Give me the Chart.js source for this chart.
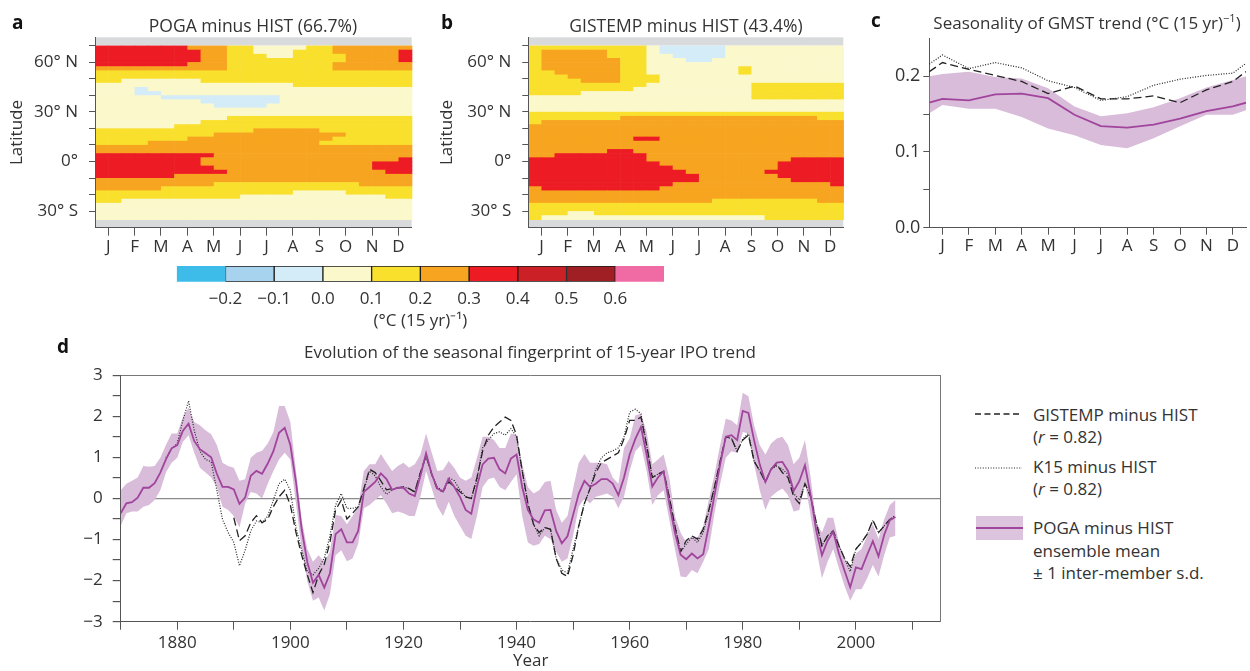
<!DOCTYPE html>
<html>
<head>
<meta charset="utf-8">
<script src="https://cdn.jsdelivr.net/npm/chart.js@4.4.1/dist/chart.umd.min.js"></script>
<style>
  body { margin: 0; background: #fff; }
  #fig { position: relative; width: 1250px; height: 671px; overflow: hidden; font-family: 'Open Sans', sans-serif; color: #333; }
  canvas { position: absolute; }
  .t { position: absolute; white-space: nowrap; font-size: 17px; line-height: 20px; }
  .ctr { transform: translateX(-50%); }
  .letter { position: absolute; font-weight: bold; font-size: 19px; line-height: 20px; color: #111; }
</style>
</head>
<body>
<div id="fig">
  <canvas id="cvA" width="430" height="262" style="left:0;top:0"></canvas>
  <canvas id="cvB" width="430" height="262" style="left:430px;top:0"></canvas>
  <canvas id="cvC" width="390" height="262" style="left:860px;top:0"></canvas>
  <canvas id="cvBar" width="560" height="80" style="left:160px;top:255px"></canvas>
  <canvas id="cvD" width="960" height="316" style="left:0;top:355px"></canvas>

  <div class="letter" style="left:12px;top:12px">a</div>
  <div class="letter" style="left:441px;top:12px">b</div>
  <div class="letter" style="left:871px;top:10px">c</div>
  <div class="letter" style="left:57px;top:336px">d</div>

  <div class="t ctr" style="left:253px;top:15px;font-size:17.5px">POGA minus HIST (66.7%)</div>
  <div class="t ctr" style="left:686px;top:15px;font-size:17.5px">GISTEMP minus HIST (43.4%)</div>
  <div class="t ctr" style="left:1087px;top:13px">Seasonality of GMST trend (°C (15 yr)<sup style="font-size:11px;line-height:0">−1</sup>)</div>
  <div class="t ctr" style="left:530px;top:342px">Evolution of the seasonal fingerprint of 15-year IPO trend</div>

  <svg style="position:absolute;left:970px;top:400px" width="60" height="150">
    <line x1="5" y1="14" x2="52" y2="14" stroke="#222" stroke-width="1.4" stroke-dasharray="6,3.5"/>
    <line x1="5" y1="68" x2="52" y2="68" stroke="#222" stroke-width="1.2" stroke-dasharray="1,1.6"/>
    <rect x="6" y="116" width="47" height="24" fill="#dcc3de"/>
    <line x1="6" y1="128" x2="53" y2="128" stroke="#a0449c" stroke-width="2"/>
  </svg>
  <div class="t" style="left:1033px;top:405px">GISTEMP minus HIST</div>
  <div class="t" style="left:1033px;top:427px">(<i>r</i> = 0.82)</div>
  <div class="t" style="left:1033px;top:457px">K15 minus HIST</div>
  <div class="t" style="left:1033px;top:479px">(<i>r</i> = 0.82)</div>
  <div class="t" style="left:1033px;top:518px">POGA minus HIST</div>
  <div class="t" style="left:1033px;top:541px">ensemble mean</div>
  <div class="t" style="left:1033px;top:563px">± 1 inter-member s.d.</div>
</div>

<script>
// ---- shared categories ----
const monthLetters = ["J", "F", "M", "A", "M", "J", "J", "A", "S", "O", "N", "D"];

// colour levels (°C per 15 yr) and their colours
const levels = [-0.3, -0.2, -0.1, 0.0, 0.1, 0.2, 0.3, 0.4, 0.5, 0.6, 0.7];
const levelColors = ["#3dbcea", "#a7d3ef", "#d4ecf8", "#fbf8cc", "#f9e02d", "#f7a520", "#ed1c24", "#cc2027", "#a01f24", "#f06ba4"];
const colorbarTicks = [-0.2, -0.1, 0.0, 0.1, 0.2, 0.3, 0.4, 0.5, 0.6];

// heatmap rows: 2.5° latitude bands from 70°N (top) down to 35°S, 24 half-month columns,
// each digit is an index into levelColors
const topLat = 70;
const bandHeight = 2.5;
const pogaRows = [
  "666666655544333344555555",
  "666666665544333444555556",
  "666666665544433444455556",
  "666666665544444444455556",
  "666666655544444444555555",
  "555555555544444444555555",
  "444444444444444444444444",
  "444444444444444444444444",
  "443333334444444444444444",
  "333333333333333444444444",
  "333233333333333333333333",
  "333223333333333333333333",
  "333332222222223333333333",
  "333333332222223333333333",
  "333333333222233333333333",
  "333333333333333333333333",
  "333333333333333333333333",
  "333333333344444444444444",
  "333333334444444444444444",
  "333333444444444444444444",
  "444444444444555554444444",
  "444444444555555555544444",
  "444444455555555555444444",
  "444455555555555554444444",
  "555555555555555555555555",
  "555555555555555555555555",
  "666666666555555555555555",
  "666666665555555555555556",
  "666666665555555555555666",
  "666666666555555555555666",
  "666666666655555555555566",
  "666666555555555555555555",
  "555555555555555555555555",
  "555555555444444444445555",
  "555554444444444444444444",
  "444444444444444333344444",
  "444444444443333333333344",
  "443333333333333333333333",
  "333333333333333333333333",
  "333333333333333333333333",
  "333333333333333333333333",
  "333333333333333333333333",
];
const gistempRows = [
  "444444444322222333333333",
  "455555444322222333333333",
  "455555444332222333333333",
  "455555544333223333333333",
  "455555544333333333333333",
  "455555544333333343333333",
  "445555544333333343333333",
  "444555544433333333333333",
  "444455544433333333333333",
  "444444444333333334444444",
  "444444443333333334444444",
  "444433333333333334444444",
  "333333333333333334444444",
  "333333333333333333333333",
  "333333333333333333333333",
  "333333333333333333333333",
  "444444444444444444444444",
  "444444455555555555555544",
  "455555555555555555555555",
  "555555555555555555555555",
  "555555555555555555555555",
  "555555555555555555555555",
  "555555556655555555555555",
  "555555555555555555555555",
  "555555555555555555555555",
  "555555665555555555555555",
  "556666666555555555555555",
  "666666666555555555556666",
  "666666666655555555566666",
  "666666666665555555566666",
  "666666666666555555666666",
  "666666666666655555566666",
  "666666666666655555556666",
  "666666666665555555555556",
  "566666666655555555555555",
  "555555555555555555555555",
  "555555555555555555555555",
  "555555555555554444444455",
  "444444444444444444444444",
  "444444444444444444444444",
  "444334444444444444444444",
  "433333333333333333444444",
];
const latTicks = [-30, -20, -10, 0, 10, 20, 30, 40, 50, 60, 70];
const latLabels = { "60": "60° N", "30": "30° N", "0": "0°", "-30": "30° S" };

// ---- panel c: seasonality of GMST trend ----
// month positions, with the half-month edges of the cyclic curves
const seasonPos = [-0.5, 0, 1, 2, 3, 4, 5, 6, 7, 8, 9, 10, 11, 11.5];
const seasonPoga = [0.165, 0.170, 0.168, 0.176, 0.177, 0.171, 0.149, 0.134, 0.132, 0.136, 0.144, 0.154, 0.160, 0.165];
const seasonPogaHi = [0.200, 0.203, 0.206, 0.199, 0.197, 0.184, 0.160, 0.147, 0.151, 0.159, 0.171, 0.185, 0.195, 0.200];
const seasonPogaLo = [0.151, 0.162, 0.157, 0.157, 0.146, 0.131, 0.122, 0.109, 0.105, 0.118, 0.134, 0.149, 0.149, 0.155];
const seasonGistemp = [0.206, 0.218, 0.209, 0.201, 0.193, 0.177, 0.187, 0.170, 0.170, 0.174, 0.165, 0.182, 0.193, 0.206];
const seasonK15 = [0.216, 0.228, 0.210, 0.218, 0.211, 0.194, 0.185, 0.168, 0.173, 0.188, 0.196, 0.201, 0.204, 0.217];
const seasonTicks = [0, 0.05, 0.1, 0.15, 0.2];

// ---- panel d: 15-year IPO trend fingerprint, yearly ----
const pogaStart = 1870;
const pogaMean = [
  -0.36, -0.12, -0.09, 0.02, 0.26, 0.26, 0.37, 0.63, 0.95, 1.22,
  1.3, 1.65, 1.82, 1.4, 1.2, 1.1, 1.0, 0.6, 0.28, 0.28,
  0.22, -0.13, 0.02, 0.55, 0.67, 0.6, 0.85, 1.15, 1.6, 1.72,
  1.3, 0.4, -0.75, -1.55, -2.05,
  -1.86, -2.17, -1.82, -0.87, -0.75, -1.07, -1.07, -0.79, 0.16, 0.28,
  0.40, 0.61, 0.47, 0.21, 0.26, 0.26, 0.12, 0.06, 0.55, 1.1,
  0.59, 0.24, 0.17, 0.47, 0.28, 0.04, -0.28, -0.37, 0.29, 0.83,
  0.97, 0.99, 0.71, 0.61, 0.97, 1.07, 0.28, -0.28, -0.51, -0.59,
  -0.29, -0.28, -0.79, -1.09, -0.92, -0.40, 0.12, 0.43, 0.28, 0.36,
  0.47, 0.47, 0.36, 0.08, 0.51, 1.07, 1.45,
  1.74, 1.07, 0.29, 0.51, 0.66, -0.12, -0.83, -1.37, -1.48, -1.34,
  -1.46, -1.36, -0.67, 0.08, 0.83, 1.50, 1.54, 1.42, 2.13, 2.08,
  1.42, 0.83, 0.40, 0.71, 0.87, 0.89, 0.67, 0.18, 0.42, 0.81,
  0.08, -0.79, -1.38, -1.03, -0.81, -1.34, -1.76, -2.16, -1.68, -1.72,
  -1.37, -1.04, -1.41, -0.89, -0.53, -0.45,
];
const pogaUpper = [
  0.2, 0.36, 0.43, 0.51, 0.79, 0.77, 0.79, 0.99, 1.3, 1.58,
  1.58, 1.98, 2.21, 1.86, 1.78, 1.66, 1.56, 1.30, 0.87, 0.79,
  0.75, 0.43, 0.47, 0.99, 1.11, 1.16, 1.34, 1.62, 2.25, 2.25,
  1.86, 0.67, -0.51, -1.23, -1.54,
  -1.38, -1.54, -1.30, -0.40, -0.43, -0.63, -0.43, -0.2, 0.67, 0.83,
  0.83, 1.08, 0.87, 0.67, 0.79, 0.87, 0.75, 0.83, 1.07, 1.58,
  1.11, 0.67, 0.69, 0.91, 0.74, 0.51, 0.43, 0.51, 0.99, 1.50,
  1.5, 1.42, 1.23, 1.23, 1.58, 1.54, 0.83, 0.28, 0.12, 0.20,
  0.40, 0.43, -0.28, -0.59, -0.43, 0.24, 0.87, 1.08, 0.87, 0.87,
  0.87, 0.83, 0.51, 0.36, 1.23, 1.46, 2.02,
  2.06, 1.62, 0.83, 0.95, 1.07, 0.51, -0.43, -0.83, -1.07, -0.91,
  -0.95, -0.67, -0.04, 0.59, 1.3, 1.94, 1.9, 1.78, 2.57, 2.49,
  1.78, 1.3, 1.07, 1.34, 1.46, 1.50, 1.30, 0.83, 0.99, 1.42,
  0.51, -0.59, -0.83, -0.47, -0.47, -1.07, -1.50, -1.70, -1.34, -1.23,
  -0.91, -0.63, -0.99, -0.51, -0.16, -0.04,
];
const pogaLower = [
  -0.67, -0.36, -0.32, -0.32, -0.2, -0.16, -0.04, 0.2, 0.63, 0.87,
  0.99, 1.38, 1.54, 1.11, 0.75, 0.63, 0.51, 0.28, -0.2, -0.28,
  -0.43, -0.71, -0.12, 0.16, 0.12, 0, 0.36, 0.67, 0.95, 1.11,
  0.95, -0.12, -1.23, -2.02, -2.49,
  -2.41, -2.73, -2.33, -1.38, -1.26, -1.53, -1.46, -1.1, -0.24, -0.16,
  -0.04, 0.08, -0.12, -0.36, -0.32, -0.36, -0.43, -0.43, 0.04, 0.67,
  0.24, -0.2, -0.43, -0.08, -0.43, -0.67, -0.91, -0.99, -0.43, 0.28,
  0.47, 0.51, 0.28, 0.2, 0.40, 0.59, -0.43, -1.07, -1.15, -1.11,
  -0.91, -0.99, -1.30, -1.54, -1.46, -0.91, -0.2, 0, -0.12, 0.04,
  0.08, 0.12, 0.04, -0.24, 0.04, 0.67, 1.15,
  1.3, 0.67, -0.16, 0.08, 0.2, -0.51, -1.23, -1.90, -1.92, -1.74,
  -1.82, -1.54, -1.23, -0.36, 0.36, 0.99, 1.15, 1.11, 1.62, 1.58,
  0.83, 0.2, -0.28, 0.04, 0.16, 0.24, 0.08, -0.32, -0.28, 0.40,
  -0.43, -1.23, -1.94, -1.54, -1.23, -1.70, -2.13, -2.49, -2.21, -2.21,
  -1.94, -1.62, -1.90, -1.38, -0.95, -0.91,
];
const gistempStart = 1890;
const gistempTrend = [
  -0.47, -1.03, -0.91, -0.59, -0.42, -0.59, -0.51, -0.2, 0.04, 0.2,
  -0.16, -0.83, -1.38, -1.86, -2.29,
  -1.86, -1.6, -1.07, -0.28, -0.04, -0.5, -0.36, -0.2, 0.24, 0.71,
  0.63, 0.43, 0.21, 0.24, 0.26, 0.28, 0.24, 0.16, 0.63, 1.03,
  0.59, 0.21, 0.17, 0.4, 0.29, 0.16, 0.04, 0, 0.51, 1.15,
  1.54, 1.74, 1.86, 1.98, 1.9, 1.54, 0.67, -0.12, -0.63, -0.83,
  -0.71, -0.75, -1.46, -1.82, -1.9, -1.38, -0.67, -0.12, 0.24, 0.63,
  0.87, 0.95, 1.03, 1.11, 1.45, 1.9, 1.9,
  1.98, 1.3, 0.51, 0.59, 0.66, 0.04, -0.67, -1.3, -1.03, -0.91,
  -0.99, -0.75, -0.28, 0.28, 0.91, 1.50, 1.46, 1.15, 1.42, 1.54,
  0.91, 0.67, 0.40, 0.71, 0.83, 0.63, 0.51, 0.04, -0.12, 0.36,
  0.04, -0.59, -1.15, -0.91, -0.79, -1.15, -1.46, -1.66, -1.23, -1.07,
  -0.87, -0.53, -0.83, -0.67, -0.51, -0.47,
];
const k15Start = 1878;
const k15Trend = [
  0.99, 1.21, 1.34, 1.9, 2.37, 1.66, 1.15, 0.95, 0.89, 0.2,
  -0.51, -0.83, -1.07, -1.64, -1.26, -0.79, -0.55, -0.59, -0.43, -0.04,
  0.36, 0.47, 0.2, -0.71, -1.26, -1.78, -1.86,
  -1.7, -1.45, -0.91, -0.16, 0.12, -0.24, -0.24, -0.2, 0.2, 0.67,
  0.55, 0.28, 0.1, 0.21, 0.26, 0.28, 0.24, 0.16, 0.63, 1.07,
  0.59, 0.28, 0.17, 0.51, 0.43, 0.21, 0.04, 0, 0.47, 1.23,
  1.42, 1.58, 1.62, 1.54, 1.70, 1.5, 0.67, -0.12, -0.63, -0.91,
  -0.71, -0.75, -1.46, -1.74, -1.82, -1.23, -0.67, -0.12, 0.24, 0.71,
  0.99, 1.11, 1.16, 1.23, 1.5, 2.1, 2.17,
  2.06, 1.3, 0.51, 0.59, 0.66, 0.04, -0.67, -1.3, -1.11, -0.95,
  -1.07, -0.83, -0.32, 0.28, 0.91, 1.50, 1.46, 1.15, 1.45, 1.58,
  0.91, 0.67, 0.40, 0.71, 0.79, 0.71, 0.59, 0.12, -0.04, 0.36,
  0.04, -0.59, -1.15, -0.91, -0.79, -1.15, -1.46, -1.78, -1.23, -1.07,
  -0.87, -0.53, -0.83, -0.67, -0.51, -0.41,
];
const yearTicks = [1870, 1880, 1890, 1900, 1910, 1920, 1930, 1940, 1950, 1960, 1970, 1980, 1990, 2000, 2010];
const yearLabels = [1880, 1900, 1920, 1940, 1960, 1980, 2000];
const ipoTicks = [-3, -2.5, -2, -1.5, -1, -0.5, 0, 0.5, 1, 1.5, 2, 2.5, 3];

// ---- styling ----
const axisColor = "#555";
const bandColor = "#d8bcda";
const purple = "#a0449c";
const noDataGrey = "#d9dadb";

Chart.defaults.font.family = "'Open Sans', sans-serif";
Chart.defaults.font.size = 17;
Chart.defaults.color = "#333";
Chart.defaults.animation = false;
Chart.defaults.responsive = false;
Chart.defaults.devicePixelRatio = 1;
Chart.defaults.plugins.legend.display = false;
Chart.defaults.plugins.tooltip.enabled = false;

function minusSign(s) {
  return String(s).replace("-", "\u2212");
}

// turn a start year and a list of values into {x, y} points
function yearPoints(start, values) {
  return values.map((v, i) => ({ x: start + i, y: v }));
}

function seasonPoints(values) {
  return values.map((v, i) => ({ x: seasonPos[i], y: v }));
}

// draws the latitude x month cells before the axes go on top
const heatmapPlugin = {
  id: "heatmap",
  beforeDraw(chart, args, opts) {
    const { ctx } = chart;
    const xs = chart.scales.x;
    const ys = chart.scales.y;
    ctx.save();
    const left = xs.getPixelForValue(-0.5);
    const right = xs.getPixelForValue(11.5);
    // no-data strips
    ctx.fillStyle = noDataGrey;
    ctx.fillRect(left, ys.getPixelForValue(75), right - left, ys.getPixelForValue(70) - ys.getPixelForValue(75));
    ctx.fillRect(left, ys.getPixelForValue(-35), right - left, ys.getPixelForValue(-40) - ys.getPixelForValue(-35));
    opts.rows.forEach((row, r) => {
      const latTop = topLat - r * bandHeight;
      const top = ys.getPixelForValue(latTop);
      const bottom = ys.getPixelForValue(latTop - bandHeight);
      for (let c = 0; c < row.length; c++) {
        const x0 = xs.getPixelForValue(c * 0.5 - 0.5);
        const x1 = xs.getPixelForValue(c * 0.5);
        ctx.fillStyle = levelColors[Number(row[c])];
        ctx.fillRect(x0, top, x1 - x0 + 0.6, bottom - top + 0.6);
      }
    });
    ctx.restore();
  },
};

function heatmapChart(id, rows, yWidth, rightPad) {
  return new Chart(document.getElementById(id), {
    type: "scatter",
    data: { datasets: [] },
    options: {
      layout: { padding: { top: 37.3, right: rightPad, left: 0, bottom: 0 } },
      plugins: { heatmap: { rows: rows } },
      scales: {
        x: {
          type: "linear",
          min: -0.5,
          max: 11.5,
          afterBuildTicks: (s) => {
            s.ticks = monthLetters.map((m, i) => ({ value: i }));
          },
          afterFit: (s) => {
            s.height = 34.3;
          },
          ticks: { callback: (v, i) => monthLetters[i], padding: 1, maxRotation: 0, autoSkip: false },
          grid: { drawOnChartArea: false, tickLength: 8, tickColor: axisColor },
          border: { color: axisColor },
        },
        y: {
          type: "linear",
          min: -40,
          max: 75,
          afterBuildTicks: (s) => {
            s.ticks = latTicks.map((v) => ({ value: v }));
          },
          afterFit: (s) => {
            s.width = yWidth;
          },
          ticks: { callback: (v) => latLabels[v] || "", padding: 11, autoSkip: false },
          grid: { drawOnChartArea: false, tickLength: 6, tickColor: axisColor },
          border: { color: axisColor },
          title: { display: true, text: "Latitude", padding: { top: 7, bottom: 0 } },
        },
      },
    },
    plugins: [heatmapPlugin],
  });
}

heatmapChart("cvA", pogaRows, 95, 18.3);
heatmapChart("cvB", gistempRows, 98.3, 16.7);

// ---- panel c ----
// lower "order" is drawn on top: mean line over black lines over the spread band
new Chart(document.getElementById("cvC"), {
  type: "line",
  data: {
    datasets: [
      { data: seasonPoints(seasonPogaHi), borderWidth: 0, pointRadius: 0, fill: false, order: 4 },
      { data: seasonPoints(seasonPogaLo), borderWidth: 0, pointRadius: 0, fill: "-1", backgroundColor: bandColor, order: 3 },
      { data: seasonPoints(seasonGistemp), borderColor: "#222", borderWidth: 1.3, borderDash: [8, 4], pointRadius: 0, order: 1 },
      { data: seasonPoints(seasonK15), borderColor: "#222", borderWidth: 1.2, borderDash: [1, 1.6], pointRadius: 0, order: 2 },
      { data: seasonPoints(seasonPoga), borderColor: purple, borderWidth: 1.8, pointRadius: 0, order: 0 },
    ],
  },
  options: {
    layout: { padding: { top: 38.3, right: 4, left: 0, bottom: 0 } },
    scales: {
      x: {
        type: "linear",
        min: -0.5,
        max: 11.5,
        afterBuildTicks: (s) => {
          s.ticks = monthLetters.map((m, i) => ({ value: i }));
        },
        afterFit: (s) => {
          s.height = 34.3;
        },
        ticks: { callback: (v, i) => monthLetters[i], padding: 1, maxRotation: 0, autoSkip: false },
        grid: { drawOnChartArea: false, tickLength: 7, tickColor: axisColor },
        border: { color: axisColor },
      },
      y: {
        type: "linear",
        min: 0,
        max: 0.25,
        afterBuildTicks: (s) => {
          s.ticks = seasonTicks.map((v) => ({ value: v }));
        },
        afterFit: (s) => {
          s.width = 69.3;
        },
        ticks: {
          callback: (v) => ([0, 0.1, 0.2].includes(v) ? v.toFixed(1) : ""),
          padding: 3,
          autoSkip: false,
          font: { size: 18 },
        },
        grid: { drawOnChartArea: false, tickLength: 6, tickColor: axisColor },
        border: { color: axisColor },
      },
    },
  },
});

// ---- colour key ----
new Chart(document.getElementById("cvBar"), {
  type: "bar",
  data: {
    labels: ["key"],
    datasets: levelColors.map((col, i) => ({
      data: [[levels[i], levels[i + 1]]],
      backgroundColor: col,
      borderColor: i > 0 && i < 9 ? "#1a1a1a" : col,
      borderWidth: 1,
      borderSkipped: false,
      grouped: false,
      categoryPercentage: 1,
      barPercentage: 1,
    })),
  },
  options: {
    indexAxis: "y",
    layout: { padding: { top: 11, right: 56, left: 16.7, bottom: 0 } },
    scales: {
      x: {
        type: "linear",
        min: -0.3,
        max: 0.7,
        afterBuildTicks: (s) => {
          s.ticks = colorbarTicks.map((v) => ({ value: v }));
        },
        afterFit: (s) => {
          s.height = 53.3;
        },
        ticks: { callback: (v) => minusSign(v.toFixed(1)), padding: -1, maxRotation: 0, autoSkip: false },
        grid: { display: false },
        border: { display: false },
        title: { display: true, text: "(°C (15 yr)⁻¹)", padding: { top: 2, bottom: 4 } },
      },
      y: { display: false },
    },
  },
});

// ---- panel d ----
new Chart(document.getElementById("cvD"), {
  type: "line",
  data: {
    datasets: [
      { data: yearPoints(pogaStart, pogaUpper), borderWidth: 0, pointRadius: 0, fill: false, order: 4 },
      { data: yearPoints(pogaStart, pogaLower), borderWidth: 0, pointRadius: 0, fill: "-1", backgroundColor: bandColor, order: 3 },
      { data: yearPoints(gistempStart, gistempTrend), borderColor: "#222", borderWidth: 1.3, borderDash: [8, 4], pointRadius: 0, order: 1 },
      { data: yearPoints(k15Start, k15Trend), borderColor: "#222", borderWidth: 1.2, borderDash: [1, 1.6], pointRadius: 0, order: 2 },
      { data: yearPoints(pogaStart, pogaMean), borderColor: purple, borderWidth: 1.8, pointRadius: 0, order: 0 },
    ],
  },
  options: {
    layout: { padding: { top: 13.5, right: 19.3, left: 0, bottom: 0 } },
    scales: {
      x: {
        type: "linear",
        min: 1870,
        max: 2015,
        afterBuildTicks: (s) => {
          s.ticks = yearTicks.map((v) => ({ value: v }));
        },
        afterFit: (s) => {
          s.height = 49.3;
        },
        ticks: {
          callback: (v) => (yearLabels.includes(v) ? String(v) : ""),
          padding: 3,
          maxRotation: 0,
          autoSkip: false,
        },
        grid: { drawOnChartArea: false, tickLength: 8, tickColor: axisColor },
        border: { color: axisColor },
        title: { display: true, text: "Year", padding: { top: 0, bottom: 0 } },
      },
      x2: {
        type: "linear",
        position: "top",
        min: 1870,
        max: 2015,
        ticks: { display: false },
        grid: { display: false },
        border: { color: "#777" },
        afterFit: (s) => {
          s.height = 0;
        },
      },
      y: {
        type: "linear",
        min: -3,
        max: 3,
        afterBuildTicks: (s) => {
          s.ticks = ipoTicks.map((v) => ({ value: v }));
        },
        afterFit: (s) => {
          s.width = 120.7;
        },
        ticks: {
          callback: (v) => (Number.isInteger(v) ? minusSign(v) : ""),
          padding: 10,
          autoSkip: false,
        },
        grid: {
          color: (c) => (c.tick && c.tick.value === 0 ? "#8a8a8a" : "rgba(0,0,0,0)"),
          lineWidth: 1.2,
          tickLength: 8,
          tickColor: axisColor,
        },
        border: { color: axisColor },
      },
      y2: {
        type: "linear",
        position: "right",
        min: -3,
        max: 3,
        ticks: { display: false },
        grid: { display: false },
        border: { color: "#777" },
        afterFit: (s) => {
          s.width = 0;
        },
      },
    },
  },
});
</script>
</body>
</html>
